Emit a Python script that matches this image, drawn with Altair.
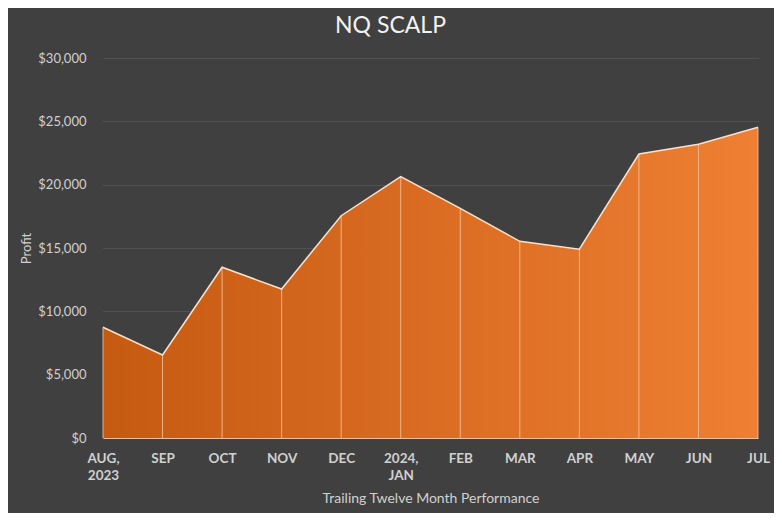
import altair as alt
import pandas as pd

months = ["AUG, 2023", "SEP", "OCT", "NOV", "DEC", "2024, JAN",
          "FEB", "MAR", "APR", "MAY", "JUN", "JUL"]
profit = [8740, 6550, 13480, 11760, 17550, 20630,
          18130, 15530, 14900, 22420, 23190, 24530]
y_ticks = [0, 5000, 10000, 15000, 20000, 25000, 30000]

df = pd.DataFrame({"month": months, "profit": profit})

FONT = "Lato"
TXT = "#d0d0d0"

x_enc = alt.X(
    "month:O", sort=months,
    scale=alt.Scale(type="point", padding=0),
    axis=alt.Axis(
        title="Trailing Twelve Month Performance",
        labelExpr="split(datum.label, ' ')",
        labelAngle=0, labelFontWeight="bold", labelFontSize=13.5,
        labelColor=TXT, labelFont=FONT, labelPadding=13, labelLineHeight=17.5,
        ticks=False, domain=True, domainColor="#e8c0a0", domainWidth=1,
        grid=False, titleFontSize=14, titleFontWeight="normal",
        titleColor=TXT, titleFont=FONT, titlePadding=9,
    ),
)
y_enc = alt.Y(
    "profit:Q",
    scale=alt.Scale(domain=[0, 30000], nice=False),
    axis=alt.Axis(
        title="Profit", values=y_ticks, format="$,.0f",
        labelFontSize=13, labelColor=TXT, labelFont=FONT, labelPadding=17,
        ticks=False, domain=False, grid=True, gridColor="#626262",
        gridDash=[1, 1], gridWidth=1,
        titleFontSize=13, titleFontWeight="normal", titleColor=TXT,
        titleFont=FONT, titlePadding=4,
    ),
)

area = alt.Chart(df).mark_area(
    color=alt.Gradient(
        gradient="linear", x1=0, x2=1, y1=0, y2=0,
        stops=[alt.GradientStop(color="#c55a11", offset=0),
               alt.GradientStop(color="#ee7f33", offset=1)],
    ),
    opacity=1,
).encode(x=x_enc, y=y_enc)

rules = alt.Chart(df).mark_rule(color="#f6c19a", strokeWidth=1, opacity=0.85).encode(
    x=alt.X("month:O", sort=months), y="profit:Q", y2=alt.datum(0)
)

line = alt.Chart(df).mark_line(color="#fbe0cc", strokeWidth=1.5).encode(
    x=alt.X("month:O", sort=months), y="profit:Q"
)

chart = (
    alt.layer(area, rules, line)
    .properties(
        width=655, height=380,
        autosize=alt.AutoSizeParams(type="none"),
        padding={"left": 95, "top": 50, "right": 16, "bottom": 75},
        background="#404040",
        title=alt.TitleParams(
            "NQ SCALP", fontSize=23, font=FONT, fontWeight="normal",
            color="#f2f2f2", anchor="middle", dx=-40, offset=14,
        ),
    )
    .configure_view(stroke=None)
)

chart.save("out.html", embed_options={"renderer": "svg", "actions": False})
